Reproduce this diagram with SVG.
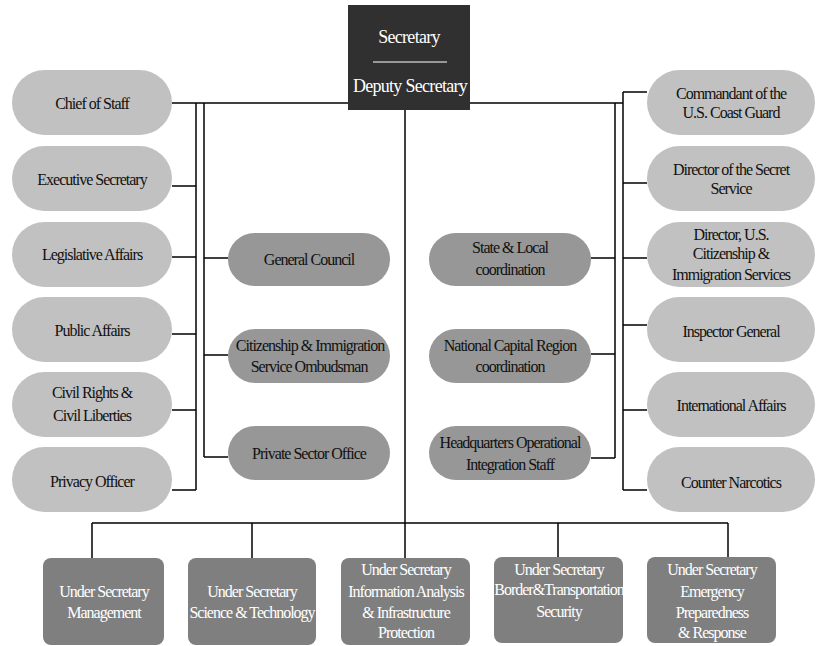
<svg xmlns="http://www.w3.org/2000/svg" width="818" height="646" viewBox="0 0 818 646">
<style>
text{font-family:'Liberation Serif','DejaVu Serif',serif;font-size:16px;letter-spacing:-1px;text-anchor:middle;fill:#111}
.lt{fill:#c1c1c1}
.md{fill:#979797}
.bx{fill:#7f7f7f}
.w{fill:#ffffff}
.sec{font-size:18px;letter-spacing:-0.7px}
#connectors line{stroke:#000;stroke-width:1.5;fill:none}
</style>
<rect width="818" height="646" fill="#ffffff"/>
<g id="connectors">
<line x1="172" y1="103" x2="623" y2="103"/>
<line x1="196" y1="103" x2="196" y2="490"/>
<line x1="172" y1="186" x2="196" y2="186"/>
<line x1="172" y1="257" x2="196" y2="257"/>
<line x1="172" y1="334" x2="196" y2="334"/>
<line x1="172" y1="410" x2="196" y2="410"/>
<line x1="172" y1="490" x2="196" y2="490"/>
<line x1="204" y1="103" x2="204" y2="457"/>
<line x1="204" y1="258" x2="228" y2="258"/>
<line x1="204" y1="355" x2="228" y2="355"/>
<line x1="204" y1="457" x2="228" y2="457"/>
<line x1="615" y1="103" x2="615" y2="458"/>
<line x1="591" y1="258" x2="615" y2="258"/>
<line x1="591" y1="354" x2="615" y2="354"/>
<line x1="591" y1="458" x2="615" y2="458"/>
<line x1="623" y1="92" x2="623" y2="490"/>
<line x1="623" y1="92" x2="647" y2="92"/>
<line x1="623" y1="183" x2="647" y2="183"/>
<line x1="623" y1="258" x2="647" y2="258"/>
<line x1="623" y1="325" x2="647" y2="325"/>
<line x1="623" y1="410" x2="647" y2="410"/>
<line x1="623" y1="490" x2="647" y2="490"/>
<line x1="405" y1="110" x2="405" y2="523"/>
<line x1="92" y1="523" x2="728" y2="523"/>
<line x1="92" y1="523" x2="92" y2="558"/>
<line x1="252" y1="523" x2="252" y2="558"/>
<line x1="405" y1="523" x2="405" y2="558"/>
<line x1="558" y1="523" x2="558" y2="557"/>
<line x1="728" y1="523" x2="728" y2="557"/>
</g>
<g id="secretary">
<rect x="348" y="5" width="122" height="105" fill="#303030"/>
<text class="w sec" x="409" y="43">Secretary</text>
<line x1="373" y1="62" x2="447" y2="62" stroke="#ffffff" stroke-width="1"/>
<text class="w sec" x="410" y="92">Deputy Secretary</text>
</g>
<g id="chief-of-staff"><rect class="lt" x="12" y="70" width="160" height="65" rx="32.5"/><text x="92" y="109">Chief of Staff</text></g>
<g id="executive-secretary"><rect class="lt" x="12" y="146" width="160" height="65" rx="32.5"/><text x="92" y="185">Executive Secretary</text></g>
<g id="legislative-affairs"><rect class="lt" x="12" y="222" width="160" height="65" rx="32.5"/><text x="92" y="260">Legislative Affairs</text></g>
<g id="public-affairs"><rect class="lt" x="12" y="297" width="160" height="65" rx="32.5"/><text x="92" y="336">Public Affairs</text></g>
<g id="civil-rights"><rect class="lt" x="12" y="372" width="160" height="65" rx="32.5"/><text x="92" y="398">Civil Rights &amp;</text><text x="92" y="421">Civil Liberties</text></g>
<g id="privacy-officer"><rect class="lt" x="12" y="447" width="160" height="65" rx="32.5"/><text x="92" y="487">Privacy Officer</text></g>
<g id="general-council"><rect class="md" x="228" y="233" width="162" height="53" rx="26.5"/><text x="309" y="265">General Council</text></g>
<g id="ombudsman"><rect class="md" x="228" y="329" width="162" height="54" rx="27"/><text x="310" y="351">Citizenship &amp; Immigration</text><text x="309" y="372">Service Ombudsman</text></g>
<g id="private-sector"><rect class="md" x="228" y="426" width="162" height="54" rx="27"/><text x="309" y="459">Private Sector Office</text></g>
<g id="state-local"><rect class="md" x="429" y="233" width="162" height="53" rx="26.5"/><text x="510" y="253">State &amp; Local</text><text x="510" y="275">coordination</text></g>
<g id="national-capital"><rect class="md" x="429" y="329" width="162" height="54" rx="27"/><text x="510" y="351">National Capital Region</text><text x="510" y="372">coordination</text></g>
<g id="hq-operational"><rect class="md" x="429" y="426" width="162" height="54" rx="27"/><text x="510" y="448">Headquarters Operational</text><text x="510" y="470">Integration Staff</text></g>
<g id="coast-guard"><rect class="lt" x="647" y="70" width="168" height="65" rx="32.5"/><text x="731" y="99">Commandant of the</text><text x="731" y="118">U.S. Coast Guard</text></g>
<g id="secret-service"><rect class="lt" x="647" y="146" width="168" height="65" rx="32.5"/><text x="731" y="175">Director of the Secret</text><text x="731" y="194">Service</text></g>
<g id="uscis"><rect class="lt" x="647" y="222" width="168" height="65" rx="32.5"/><text x="731" y="240">Director, U.S.</text><text x="731" y="259">Citizenship &amp;</text><text x="731" y="280">Immigration Services</text></g>
<g id="inspector-general"><rect class="lt" x="647" y="297" width="168" height="65" rx="32.5"/><text x="731" y="337">Inspector General</text></g>
<g id="international-affairs"><rect class="lt" x="647" y="372" width="168" height="65" rx="32.5"/><text x="731" y="411">International Affairs</text></g>
<g id="counter-narcotics"><rect class="lt" x="647" y="447" width="168" height="65" rx="32.5"/><text x="731" y="488">Counter Narcotics</text></g>
<g id="us-management"><rect class="bx" x="43" y="558" width="121" height="87" rx="8"/><text class="w" x="104" y="597">Under Secretary</text><text class="w" x="104" y="618">Management</text></g>
<g id="us-science"><rect class="bx" x="188" y="558" width="128" height="87" rx="8"/><text class="w" x="252" y="597">Under Secretary</text><text class="w" x="252" y="618">Science &amp; Technology</text></g>
<g id="us-information"><rect class="bx" x="341" y="558" width="129" height="87" rx="8"/><text class="w" x="406" y="575">Under Secretary</text><text class="w" x="406" y="597">Information Analysis</text><text class="w" x="406" y="618">&amp; Infrastructure</text><text class="w" x="406" y="638">Protection</text></g>
<g id="us-border"><rect class="bx" x="494" y="557" width="129" height="86" rx="8"/><text class="w" x="559" y="575">Under Secretary</text><text class="w" x="559" y="595">Border&amp;Transportation</text><text class="w" x="559" y="617">Security</text></g>
<g id="us-emergency"><rect class="bx" x="647" y="557" width="129" height="86" rx="8"/><text class="w" x="712" y="575">Under Secretary</text><text class="w" x="712" y="597">Emergency</text><text class="w" x="712" y="618">Preparedness</text><text class="w" x="712" y="638">&amp; Response</text></g>
</svg>
